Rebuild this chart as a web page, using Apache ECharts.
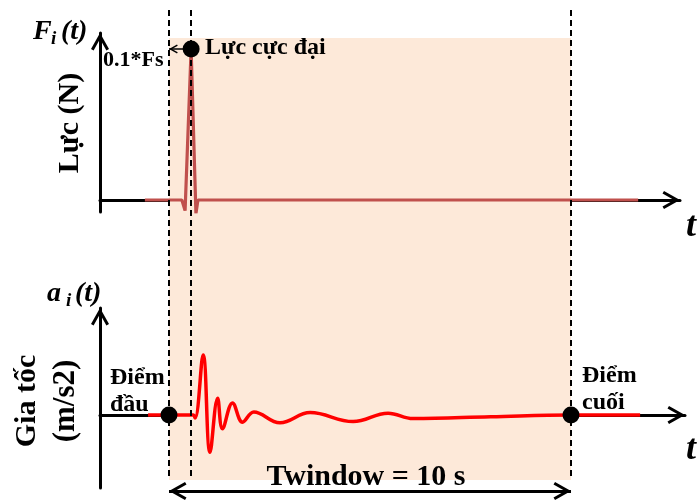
<!DOCTYPE html>
<html>
<head>
<meta charset="utf-8">
<script src="https://cdn.jsdelivr.net/npm/echarts@6/dist/echarts.min.js"></script>
<style>html,body{margin:0;padding:0;background:#fff}#c{width:697px;height:500px}</style>
</head>
<body>
<div id="c"></div>
<script>
// ---------------- data ----------------
// time in seconds, measured from the window start point ("Điểm đầu")
const keyTimes = [0, 0.55, 10];            // start point, peak force, end point
const forceT = [-0.60, 0.32, 0.40, 0.55, 0.67, 0.72, 11.67];
const forceF = [0, 0, -0.07, 1.0, -0.09, 0, 0];   // normalised force (peak = 1)
const accelT = [-0.52, 0.60, 0.65, 0.85, 1.02, 1.21, 1.33, 1.58, 1.83, 2.11, 2.76, 3.51, 4.58, 5.45, 6.07, 8.00, 10.00, 11.72];
const accelA = [0, 0, -0.05, 1.0, -0.62, 0.28, -0.23, 0.20, -0.12, 0.05, -0.13, 0.04, -0.11, 0.03, -0.06, -0.03, 0, 0];
const windowLabel = 'Twindow = 10 s';

// ---------------- layout / style ----------------
const FONT = '"Liberation Serif", "DejaVu Serif", serif';
const CHEVRON = 'path://M10,0.5L10,0.5M10,18L19,34L16.4,35.5L10,24L3.6,35.5L1,34Z';
const T_MIN = -1.7164;
const zip = (a, b) => a.map((v, i) => [v, b[i]]);
const [tStart, tPeak, tEnd] = keyTimes;

function txt(str, x, baseline, size, opts) {
  opts = opts || {};
  const style = {
    text: str,
    font: (opts.italic ? 'italic ' : '') + 'bold ' + size + 'px ' + FONT,
    fill: '#000',
    align: opts.align || 'left',
    verticalAlign: 'middle',
    textAlign: opts.align || 'left',
    textVerticalAlign: 'middle'
  };
  if (opts.rot) {
    return { type: 'text', z: 100, x: x, y: baseline, rotation: Math.PI / 2,
      style: Object.assign(style, { align: 'center', textAlign: 'center' }) };
  }
  return { type: 'text', z: 100, x: x, y: baseline - 0.305 * size, style: style };
}

const axisBase = {
  type: 'value',
  axisLine: { show: true, lineStyle: { color: '#000', width: 3 }, symbol: ['none', CHEVRON], symbolSize: [18, 35] },
  axisTick: { show: false }, axisLabel: { show: false }, splitLine: { show: false }
};
function ax(extra) { return Object.assign({}, JSON.parse(JSON.stringify(axisBase)), extra); }

const option = {
  animation: false,
  grid: [
    { left: 100, right: 17, top: 33, bottom: 288 },   // force
    { left: 100, right: 12, top: 308, bottom: 12 },   // acceleration
    { left: 100, right: 17, top: 0, bottom: 0 }       // annotation overlay
  ],
  xAxis: [
    ax({ gridIndex: 0, min: T_MIN, max: 12.711 }),
    ax({ gridIndex: 1, min: T_MIN, max: 12.836 }),
    { type: 'value', gridIndex: 2, min: T_MIN, max: 12.711, show: false }
  ],
  yAxis: [
    (() => { const a = ax({ gridIndex: 0, min: -0.0795, max: 1.106 }); a.axisLine.onZero = false; return a; })(),
    (() => { const a = ax({ gridIndex: 1, min: -1.217, max: 1.783 }); a.axisLine.onZero = false; return a; })(),
    { type: 'value', gridIndex: 2, min: 0, max: 500, inverse: true, show: false }
  ],
  series: [
    {
      type: 'line', xAxisIndex: 2, yAxisIndex: 2, data: [], silent: true, z: 1,
      markArea: {
        silent: true,
        itemStyle: { color: '#fde9d9' },
        data: [[{ coord: [tStart, 38] }, { coord: [tEnd, 480] }]]
      },
      markLine: {
        silent: true, symbol: 'none', label: { show: false },
        lineStyle: { color: '#000', width: 2, type: [6, 4] },
        data: [
          [{ coord: [tStart, 10] }, { coord: [tStart, 477] }],
          [{ coord: [tPeak, 10] }, { coord: [tPeak, 477] }],
          [{ coord: [tEnd, 10] }, { coord: [tEnd, 477] }],
          [{ coord: [tStart, 491], symbol: CHEVRON, symbolSize: [18, 35], lineStyle: { type: 'solid', width: 3 } },
           { coord: [tEnd, 491], symbol: CHEVRON, symbolSize: [18, 35] }]
        ]
      }
    },
    {
      type: 'line', xAxisIndex: 0, yAxisIndex: 0, data: zip(forceT, forceF),
      showSymbol: false, symbol: 'none', lineStyle: { color: '#c0504d', width: 3.2 }, z: 3,
      markLine: {
        silent: true, label: { show: false }, symbol: ['none', CHEVRON], symbolSize: [9, 17.5],
        lineStyle: { color: '#000', width: 1.5, type: 'solid' },
        data: [[{ coord: [tPeak, 1.0] }, { coord: [tStart, 1.0] }]]
      }
    },
    {
      type: 'line', xAxisIndex: 1, yAxisIndex: 1, data: zip(accelT, accelA),
      showSymbol: false, symbol: 'none', smooth: 0.4, lineStyle: { color: '#ff0000', width: 3.5 }, z: 3
    },
    {
      type: 'scatter', xAxisIndex: 0, yAxisIndex: 0, data: [[tPeak, 1.0]],
      symbolSize: 17, itemStyle: { color: '#000', opacity: 1 }, z: 8, silent: true
    },
    {
      type: 'scatter', xAxisIndex: 1, yAxisIndex: 1, data: [[tStart, 0], [tEnd, 0]],
      symbolSize: 17, itemStyle: { color: '#000', opacity: 1 }, z: 8, silent: true
    }
  ],
  graphic: {
    elements: [
      txt('Lực cực đại', 205, 55, 24),
      txt('0.1*Fs', 103, 67, 22),
      txt('Lực (N)', 70, 123, 30, { rot: true }),
      txt('Gia tốc', 27, 401, 30, { rot: true }),
      txt('(m/s2)', 66, 401, 31, { rot: true }),
      txt('Điểm', 110, 385, 24),
      txt('đầu', 110, 412, 24),
      txt('Điểm', 582, 383, 24),
      txt('cuối', 582, 410, 24),
      txt(windowLabel, 366, 486, 30, { align: 'center' }),
      txt('F', 33, 40, 28, { italic: true }),
      txt('i', 51, 45, 19, { italic: true }),
      txt('(t)', 61, 40, 28, { italic: true }),
      txt('a', 47, 302, 28, { italic: true }),
      txt('i', 66, 307, 19, { italic: true }),
      txt('(t)', 75, 302, 28, { italic: true }),
      txt('t', 686, 238, 36, { italic: true }),
      txt('t', 686, 461, 36, { italic: true })
    ]
  }
};

const chart = echarts.init(document.getElementById('c'), null, { renderer: 'canvas' });
chart.setOption(option);
</script>
</body>
</html>
